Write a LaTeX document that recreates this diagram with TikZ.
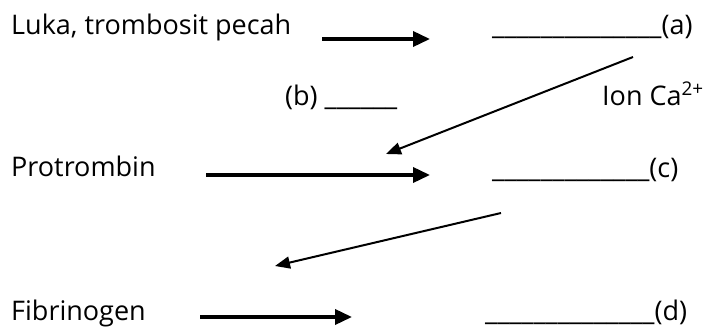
\documentclass[tikz,border=0pt]{standalone}
\usepackage{fontspec}
\setmainfont{Open Sans}
\usetikzlibrary{arrows.meta}
\begin{document}
\begin{tikzpicture}[x=1pt,y=-1pt,
  lbl/.style={anchor=base west,inner sep=0pt,font=\fontsize{27}{32}\selectfont},
  thick arrow/.style={line width=3.6pt,-{Triangle[length=17pt,width=15pt]}},
  thin arrow/.style={line width=2pt,-{Triangle[length=15pt,width=12pt]}}]
\useasboundingbox (0,0) rectangle (709,329);
% texts
\node[lbl] (luka) at (11,35) {Luka, trombosit pecah};
\node[lbl] (a) at (492,35) {\_\_\_\_\_\_\_\_\_\_\_\_\_\_(a)};
\node[lbl] (b) at (285,105) {(b) \_\_\_\_\_\_};
\node[lbl] (ion) at (602,105) {Ion Ca\textsuperscript{2+}};
\node[lbl] (pro) at (11,176) {Protrombin};
\node[lbl] (c) at (492,177) {\_\_\_\_\_\_\_\_\_\_\_\_\_(c)};
\node[lbl] (fib) at (11,320) {Fibrinogen};
\node[lbl] (d) at (485,320) {\_\_\_\_\_\_\_\_\_\_\_\_\_\_(d)};
% arrow end points
\coordinate (a1s) at (322,39);
\coordinate (a1e) at (430,39);
\coordinate (d1s) at (633,57);
\coordinate (d1e) at (386,154);
\coordinate (a2s) at (206,175);
\coordinate (a2e) at (430,175);
\coordinate (d2s) at (501,213);
\coordinate (d2e) at (275,266);
\coordinate (a3s) at (200,317);
\coordinate (a3e) at (352,317);
\draw[thick arrow] (a1s) -- (a1e);
\draw[thin arrow] (d1s) -- (d1e);
\draw[thick arrow] (a2s) -- (a2e);
\draw[thin arrow] (d2s) -- (d2e);
\draw[thick arrow] (a3s) -- (a3e);
\end{tikzpicture}
\end{document}
